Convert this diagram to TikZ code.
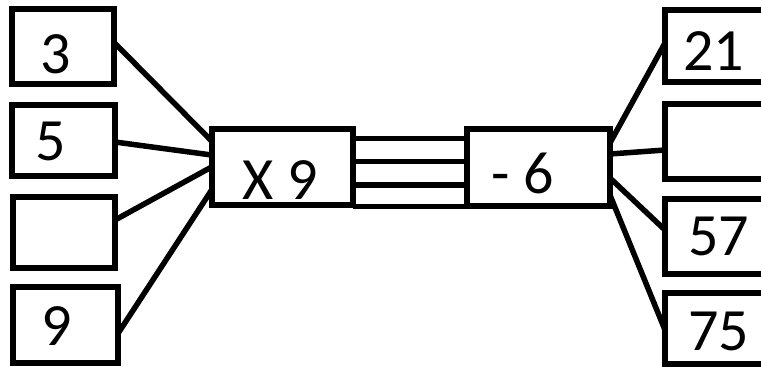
\documentclass[tikz,border=0pt]{standalone}
\usepackage{fontspec}
\setmainfont{Carlito}
\tikzset{
  box/.style={draw=black, line width=6pt, inner sep=0pt, outer sep=0pt, fill=white},
  num/.style={inner sep=0pt, outer sep=0pt, anchor=base, font=\fontsize{60}{60}\selectfont},
  wire/.style={line width=5.5pt, line cap=butt}
}
\begin{document}
\begin{tikzpicture}[x=1pt, y=-1pt]
  \useasboundingbox (0,0) rectangle (761,367);
  \clip (0,0) rectangle (761,367);

  % input boxes
  \node[box, minimum width=102pt, minimum height=75pt]   (b3) at (62.6,46.5) {};
  \node[box, minimum width=103.3pt, minimum height=71pt] (b5) at (63.3,140.5) {};
  \node[box, minimum width=101.7pt, minimum height=71.6pt] (be) at (64.2,232.5) {};
  \node[box, minimum width=105pt, minimum height=76pt]   (b9) at (65.8,325.3) {};

  % operation boxes
  \node[box, minimum width=141.8pt, minimum height=75.7pt] (x9) at (282.5,167.2) {};
  \node[box, minimum width=143.3pt, minimum height=76.2pt] (m6) at (538.3,167.4) {};

  % output boxes (run past the right edge)
  \node[box, minimum width=135pt, minimum height=72pt] (r21) at (732.5,45.5) {};
  \node[box, minimum width=135pt, minimum height=75pt] (re)  at (732.5,141) {};
  \node[box, minimum width=135pt, minimum height=75pt] (r57) at (732.5,236) {};
  \node[box, minimum width=135pt, minimum height=71pt] (r75) at (732.5,328.8) {};

  % labels
  \node[num] (t3)  at (55.5,73)  {3};
  \node[num] (t5)  at (50.5,160) {5};
  \node[num] (t9)  at (56.5,345) {9};
  \node[num] (tx9) at (280.5,199) {X 9};
  \node[num] (tm6) at (523,193)  {- 6};
  \node[num] (t21) at (713.5,70) {21};
  \node[num] (t57) at (718.5,255) {57};
  \node[num] (t75) at (718.5,350) {75};

  % inputs into the first operation
  \draw[wire] (b3.east |- 0,42)  -- (x9.west |- 0,141);
  \draw[wire] (b5.east |- 0,142) -- (x9.west |- 0,155);
  \draw[wire] (be.east |- 0,220) -- (x9.west |- 0,167);
  \draw[wire] (b9.east |- 0,333) -- (x9.west |- 0,190);

  % bundle between the two operations
  \draw[wire] (x9.east |- 0,138.5) -- (m6.west |- 0,138.5);
  \draw[wire] (x9.east |- 0,161.5) -- (m6.west |- 0,161.5);
  \draw[wire] (x9.east |- 0,185)   -- (m6.west |- 0,185);
  \draw[wire] (x9.east |- 0,206.5) -- (m6.west |- 0,206.5);

  % outputs of the second operation
  \draw[wire] (m6.east |- 0,143) -- (r21.west |- 0,43);
  \draw[wire] (m6.east |- 0,154) -- (re.west |- 0,150);
  \draw[wire] (m6.east |- 0,178) -- (r57.west |- 0,230);
  \draw[wire] (m6.east |- 0,195) -- (r75.west |- 0,330);
\end{tikzpicture}
\end{document}
